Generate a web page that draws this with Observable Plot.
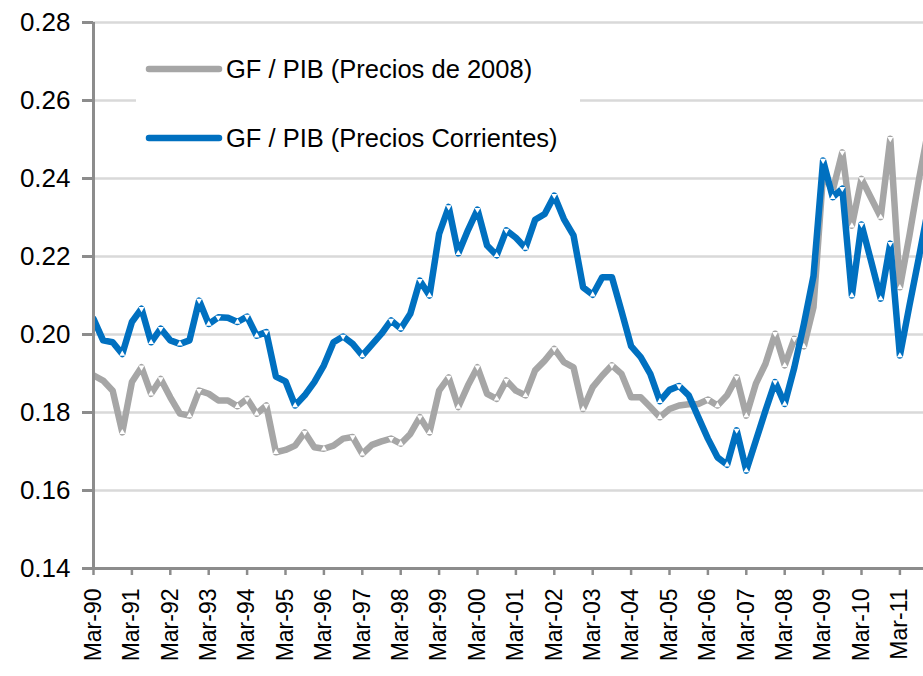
<!DOCTYPE html>
<html>
<head>
<meta charset="utf-8">
<script src="https://cdn.jsdelivr.net/npm/d3@7"></script>
<script src="https://cdn.jsdelivr.net/npm/@observablehq/plot@0.6"></script>
<style>
  body { margin: 0; background: #fff; }
  #chart { position: relative; width: 923px; height: 676px; overflow: hidden; font-family: "Liberation Sans", Arial, sans-serif; }
  #legend { position: absolute; left: 136px; top: 40px; width: 444px; height: 130px; background: #fff; }
</style>
</head>
<body>
<div id="chart"></div>
<script>
// Tick labels (one per year, first quarter)
const tickLabels = ["Mar-90","Mar-91","Mar-92","Mar-93","Mar-94","Mar-95","Mar-96","Mar-97","Mar-98","Mar-99","Mar-00",
                    "Mar-01","Mar-02","Mar-03","Mar-04","Mar-05","Mar-06","Mar-07","Mar-08","Mar-09","Mar-10","Mar-11"];
const yTicks = [0.14, 0.16, 0.18, 0.20, 0.22, 0.24, 0.26, 0.28];
const seriesNames = ["GF / PIB (Precios de 2008)", "GF / PIB (Precios Corrientes)"];

// Quarterly values, 1990Q1 onwards
const gfPibConstant = [
  0.1895, 0.1882, 0.1856, 0.1749, 0.1878, 0.1916, 0.1848, 0.1886, 0.1839, 0.1797,
  0.1792, 0.1856, 0.1848, 0.1831, 0.1831, 0.1816, 0.1835, 0.1797, 0.1818, 0.1698,
  0.1704, 0.1715, 0.1749, 0.1711, 0.1707, 0.1715, 0.1733, 0.1737, 0.1694, 0.1717,
  0.1726, 0.1733, 0.1720, 0.1745, 0.1788, 0.1749, 0.1856, 0.1890, 0.1814, 0.1869,
  0.1916, 0.1848, 0.1835, 0.1882, 0.1856, 0.1844, 0.1908, 0.1933, 0.1963, 0.1929,
  0.1916, 0.1809, 0.1865, 0.1895, 0.1921, 0.1899, 0.1839, 0.1839, 0.1814, 0.1788,
  0.1809, 0.1818, 0.1821, 0.1822, 0.1833, 0.1818, 0.1844, 0.1890, 0.1792, 0.1874,
  0.1925, 0.2002, 0.1921, 0.1989, 0.1970, 0.2070, 0.2412, 0.2369, 0.2467, 0.2279,
  0.2399, 0.2350, 0.2301, 0.2502, 0.2121, 0.2255, 0.2400, 0.2530
];
const gfPibCurrent = [
  0.2040, 0.1985, 0.1980, 0.1950, 0.2032, 0.2066, 0.1980, 0.2015, 0.1985, 0.1976,
  0.1985, 0.2087, 0.2027, 0.2044, 0.2043, 0.2032, 0.2046, 0.1997, 0.2006, 0.1892,
  0.1880, 0.1818, 0.1844, 0.1878, 0.1921, 0.1980, 0.1995, 0.1976, 0.1946, 0.1974,
  0.2002, 0.2036, 0.2015, 0.2053, 0.2138, 0.2100, 0.2258, 0.2327, 0.2208, 0.2267,
  0.2320, 0.2228, 0.2203, 0.2267, 0.2248, 0.2222, 0.2294, 0.2309, 0.2356, 0.2296,
  0.2254, 0.2121, 0.2102, 0.2147, 0.2147, 0.2060, 0.1970, 0.1942, 0.1899, 0.1829,
  0.1858, 0.1868, 0.1844, 0.1788, 0.1733, 0.1685, 0.1666, 0.1754, 0.1651, 0.1728,
  0.1805, 0.1878, 0.1822, 0.1915, 0.2027, 0.2150, 0.2446, 0.2352, 0.2374, 0.2100,
  0.2282, 0.2188, 0.2092, 0.2233, 0.1946, 0.2075, 0.2200, 0.2330
];
const colors = ["#a6a6a6", "#0070c0"];

const W = 923, H = 676;
const mLeft = 93, mTop = 22, mBottom = 108, mRight = 0;
const step = 9.6; // pixels per quarter
const xMax = (W - mLeft - mRight) / step;

function toRows(values, name) {
  return values.map((v, i) => ({i, v, name}));
}
function extrema(values, name) {
  const out = [];
  for (let i = 1; i < values.length - 1; i++) {
    if (values[i] > values[i-1] && values[i] > values[i+1]) out.push({i, v: values[i], name, kind: "max"});
    else if (values[i] < values[i-1] && values[i] < values[i+1]) out.push({i, v: values[i], name, kind: "min"});
  }
  return out;
}
const rowsA = toRows(gfPibConstant, seriesNames[0]);
const rowsB = toRows(gfPibCurrent, seriesNames[1]);
const extA = extrema(gfPibConstant, seriesNames[0]);
const extB = extrema(gfPibCurrent, seriesNames[1]);
const tickIdx = tickLabels.map((d, k) => k * 4);

const axisGrey = "#8c8c8c";

const plot = Plot.plot({
  width: W, height: H,
  marginLeft: mLeft, marginRight: mRight, marginTop: mTop, marginBottom: mBottom,
  style: {fontFamily: "'Liberation Sans', Arial, sans-serif", background: "#fff", overflow: "hidden"},
  x: {type: "linear", domain: [0, xMax], axis: null},
  y: {domain: [0.14, 0.28], axis: null},
  marks: [
    Plot.gridY(yTicks, {stroke: "#d9d9d9", strokeOpacity: 1, strokeWidth: 2.5}),
    Plot.line(rowsA, {x: "i", y: "v", stroke: colors[0], strokeWidth: 6.5, strokeLinejoin: "round", strokeLinecap: "round", clip: true}),
    Plot.dot(extA, {x: "i", y: "v", symbol: "triangle", r: 2.2, fill: "white", stroke: null,
      rotate: d => d.kind === "max" ? 180 : 0, clip: true}),
    Plot.line(rowsB, {x: "i", y: "v", stroke: colors[1], strokeWidth: 6.5, strokeLinejoin: "round", strokeLinecap: "round", clip: true}),
    Plot.dot(extB, {x: "i", y: "v", symbol: "triangle", r: 2.2, fill: "white", stroke: null,
      rotate: d => d.kind === "max" ? 180 : 0, clip: true}),
    Plot.ruleX([0], {stroke: axisGrey, strokeWidth: 3}),
    Plot.ruleY([0.14], {stroke: axisGrey, strokeWidth: 3}),
    Plot.axisY({ticks: yTicks, tickFormat: d3.format(".2f"), tickSize: 11, tickPadding: 12,
      fontSize: 26, stroke: axisGrey, strokeWidth: 3, fill: "black", label: null}),
    Plot.axisX({ticks: tickIdx, tickFormat: i => tickLabels[i / 4], tickRotate: -90, tickSize: 7,
      tickPadding: 13, fontSize: 23, stroke: axisGrey, strokeWidth: 2.5, fill: "black", label: null})
  ]
});

const chart = document.getElementById("chart");
chart.appendChild(plot);

// Legend (inside the plot area)
const legend = document.createElement("div");
legend.id = "legend";
const ns = "http://www.w3.org/2000/svg";
const lsvg = document.createElementNS(ns, "svg");
lsvg.setAttribute("width", 444);
lsvg.setAttribute("height", 130);
const rowY = [29, 98];
seriesNames.forEach((name, k) => {
  const ln = document.createElementNS(ns, "line");
  ln.setAttribute("x1", 13); ln.setAttribute("x2", 83);
  ln.setAttribute("y1", rowY[k]); ln.setAttribute("y2", rowY[k]);
  ln.setAttribute("stroke", colors[k]); ln.setAttribute("stroke-width", 6.5);
  ln.setAttribute("stroke-linecap", "round");
  lsvg.appendChild(ln);
  const tx = document.createElementNS(ns, "text");
  tx.setAttribute("x", 90); tx.setAttribute("y", rowY[k]);
  tx.setAttribute("dy", "0.35em");
  tx.setAttribute("font-size", 25.5);
  tx.setAttribute("font-family", "'Liberation Sans', Arial, sans-serif");
  tx.setAttribute("fill", "black");
  tx.textContent = name;
  lsvg.appendChild(tx);
});
legend.appendChild(lsvg);
chart.appendChild(legend);
</script>
</body>
</html>
